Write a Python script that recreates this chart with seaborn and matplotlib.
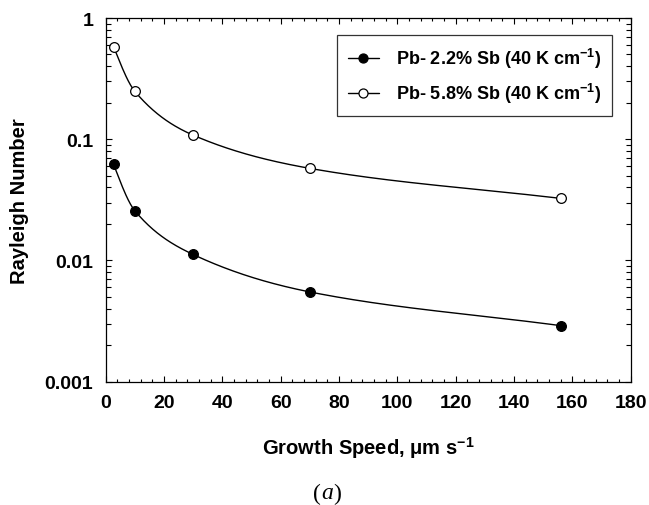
import numpy as np
import pandas as pd
import matplotlib
matplotlib.use("Agg")
import matplotlib.pyplot as plt
import seaborn as sns
from matplotlib.lines import Line2D
from matplotlib.ticker import FixedLocator, FuncFormatter, LogLocator, NullFormatter, MultipleLocator

# ---- data ----
speed = [2.7, 10, 30, 70, 156]
ra_22 = [0.062, 0.0257, 0.0112, 0.0055, 0.0029]
ra_58 = [0.58, 0.248, 0.108, 0.0575, 0.0325]
labels = [r"Pb- 2.2% Sb (40 K cm$^{-1}$)", r"Pb- 5.8% Sb (40 K cm$^{-1}$)"]
xticks = [0, 20, 40, 60, 80, 100, 120, 140, 160, 180]
yticks = [0.001, 0.01, 0.1, 1]
xlabel = r"Growth Speed, μm s$^{-1}$"
ylabel = "Rayleigh Number"
panel = ["(", "a", ")"]

sns.set_style("ticks")
plt.rcParams["font.family"] = ["Liberation Sans", "DejaVu Sans"]
plt.rcParams["font.weight"] = "bold"
plt.rcParams["text.color"] = "black"
plt.rcParams["axes.labelcolor"] = "black"
plt.rcParams["xtick.color"] = "black"
plt.rcParams["ytick.color"] = "black"
plt.rcParams["mathtext.fontset"] = "custom"
plt.rcParams["mathtext.rm"] = "Liberation Sans:bold"
plt.rcParams["mathtext.bf"] = "Liberation Sans:bold"
plt.rcParams["mathtext.it"] = "Liberation Sans:bold"
plt.rcParams["mathtext.default"] = "bf"


def pchip(x, y, xs):
    x = np.asarray(x, float); y = np.asarray(y, float)
    h = np.diff(x); d = np.diff(y) / h
    n = len(x); m = np.zeros(n)
    for k in range(1, n - 1):
        if d[k - 1] * d[k] > 0:
            w1 = 2 * h[k] + h[k - 1]; w2 = h[k] + 2 * h[k - 1]
            m[k] = (w1 + w2) / (w1 / d[k - 1] + w2 / d[k])
    m[0] = ((2 * h[0] + h[1]) * d[0] - h[0] * d[1]) / (h[0] + h[1])
    if np.sign(m[0]) != np.sign(d[0]):
        m[0] = 0
    m[-1] = d[-1]
    out = np.empty_like(xs)
    idx = np.clip(np.searchsorted(x, xs) - 1, 0, n - 2)
    for j, xv in enumerate(xs):
        k = idx[j]; t = (xv - x[k]) / h[k]
        h00 = 2 * t**3 - 3 * t**2 + 1; h10 = t**3 - 2 * t**2 + t
        h01 = -2 * t**3 + 3 * t**2; h11 = t**3 - t**2
        out[j] = h00 * y[k] + h10 * h[k] * m[k] + h01 * y[k + 1] + h11 * h[k] * m[k + 1]
    return out


fig = plt.figure(figsize=(6.49, 5.06), dpi=100)
W, H = 649, 506
L, R, T, B = 105.7, 630.7, 19.0, 382.7
ax = fig.add_axes([L / W, 1 - B / H, (R - L) / W, (B - T) / H])

xs = np.linspace(speed[0], speed[-1], 400)
rows = []
for lab, vals in zip(labels, [ra_22, ra_58]):
    ys = 10 ** pchip(speed, np.log10(vals), xs)
    rows.append(pd.DataFrame({"x": xs, "y": ys, "s": lab}))
curve = pd.concat(rows)
pts = pd.concat([pd.DataFrame({"x": speed, "y": v, "s": lab}) for lab, v in zip(labels, [ra_22, ra_58])])

sns.lineplot(data=curve, x="x", y="y", units="s", estimator=None, color="black", lw=1.0, ax=ax, legend=False, sort=False)
ms = 7
for lab, fc in zip(labels, ["black", "white"]):
    sub = pts[pts.s == lab]
    ax.plot(sub.x, sub.y, ls="none", marker="o", ms=ms, mfc=fc, mec="black", mew=0.9, zorder=5)

ax.set_yscale("log")
ax.set_xlim(0, 180)
ax.set_ylim(0.001, 1)
ax.xaxis.set_major_locator(FixedLocator(xticks))
ax.xaxis.set_minor_locator(MultipleLocator(4))
ax.yaxis.set_major_locator(FixedLocator(yticks))
ax.yaxis.set_minor_locator(LogLocator(base=10, subs=np.arange(2, 10)))
ax.yaxis.set_minor_formatter(NullFormatter())
ax.yaxis.set_major_formatter(FuncFormatter(lambda v, p: f"{v:g}"))

for s in ax.spines.values():
    s.set_visible(True); s.set_linewidth(0.9); s.set_color("black")
ax.tick_params(which="both", direction="in", top=True, right=True, width=0.8, colors="black")
ax.tick_params(axis="x", which="major", length=4, labelsize=14, pad=9)
ax.tick_params(axis="x", which="minor", length=2)
ax.tick_params(axis="y", which="major", length=4, labelsize=14, pad=9)
ax.tick_params(axis="y", which="minor", length=3.5)
for t in ax.get_xticklabels() + ax.get_yticklabels():
    t.set_fontweight("bold")

ax.set_xlabel(xlabel, fontsize=14.5, fontweight="bold")
ax.set_ylabel(ylabel, fontsize=14.5, fontweight="bold")
ax.xaxis.set_label_coords(0.5, -0.145)
ax.yaxis.set_label_coords(-0.146, 0.5)

handles = [Line2D([], [], color="black", lw=1.0, marker="o", ms=6.5, mfc=fc, mec="black", mew=0.9)
           for fc in ["black", "white"]]
leg = ax.legend(handles, labels, loc="upper right", bbox_to_anchor=(0.9638, 0.953), borderaxespad=0,
                fancybox=False, framealpha=1, edgecolor="#333333",
                handlelength=1.7, handletextpad=0.95, labelspacing=0.6, borderpad=0.6,
                prop={"weight": "bold", "size": 13})
leg.get_frame().set_linewidth(0.9)

# panel label "(a)": upright parentheses, italic a (Times-like serif)
px = [312.5, 321.0, 333.0]
styles = ["normal", "italic", "normal"]
for ch, x0, st in zip(panel, px, styles):
    fig.text(x0 / W, 1 - 494 / H, ch, fontsize=17, family="Liberation Serif", fontweight="normal",
             fontstyle=st, ha="left", va="center")

fig.savefig("out.png", dpi=100, facecolor="white")
